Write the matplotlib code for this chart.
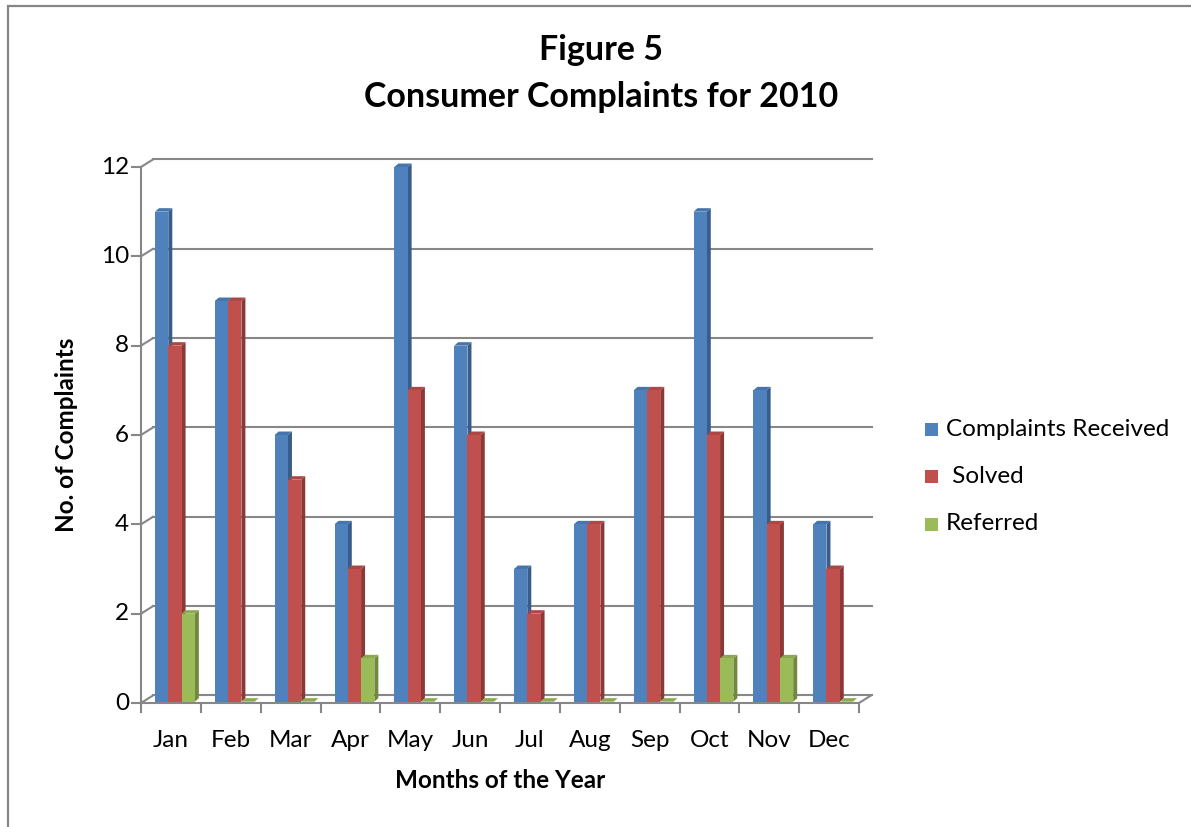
import matplotlib
matplotlib.use('Agg')
import matplotlib.pyplot as plt
from matplotlib.patches import Polygon, Rectangle

plt.rcParams['font.family'] = ['Lato', 'DejaVu Sans']

months = ['Jan', 'Feb', 'Mar', 'Apr', 'May', 'Jun', 'Jul', 'Aug', 'Sep', 'Oct', 'Nov', 'Dec']
received = [11, 9, 6, 4, 12, 8, 3, 4, 7, 11, 7, 4]
solved = [8, 9, 5, 3, 7, 6, 2, 4, 7, 6, 4, 3]
referred = [2, 0, 0, 1, 0, 0, 0, 0, 0, 1, 1, 0]
series_names = ['Complaints Received', ' Solved', 'Referred']
yticks = [0, 2, 4, 6, 8, 10, 12]

# front / side / top shades for each series
face_cols = ['#4F81BD', '#C0504D', '#9BBB59']
side_cols = ['#385D8A', '#8C3836', '#71893F']
top_cols = ['#4675AC', '#AD4744', '#8BA94F']

W, H = 1191, 827
fig = plt.figure(figsize=(W / 100, H / 100), dpi=100)
fig.patch.set_facecolor('white')

# chart frame (only left and top edges show)
fig.add_artist(Rectangle((8 / W, -0.1), 1.2, 1 - 6 / H + 0.1, transform=fig.transFigure,
                         fill=False, edgecolor='#868686', lw=1.6))

ax = fig.add_axes([141 / W, 1 - 703 / H, 718 / W, 536 / H])
ax.set_xlim(0, 12)
ax.set_ylim(0, 12)
ax.axis('off')

BX, BY = 0.2, 0.168      # depth of back wall
DX, DY = 0.067, 0.078    # depth of each column
grid_col = '#878787'

# back wall gridlines with diagonals to the front axis
for v in yticks:
    ax.plot([BX, 12 + BX + 0.02], [v + BY, v + BY], color=grid_col, lw=1.5, zorder=1, clip_on=False)
    ax.plot([0, BX], [v, v + BY], color=grid_col, lw=1.5, zorder=1, clip_on=False)
    ax.plot([-0.15, 0], [v, v], color=grid_col, lw=1.5, zorder=1, clip_on=False)
    ax.text(-0.2, v, str(v), ha='right', va='center', fontsize=17.5)

# floor and front axis
ax.plot([0, 12, 12 + BX], [0, 0, BY], color=grid_col, lw=1.5, zorder=1, clip_on=False)
ax.plot([0, 0], [0, 12], color=grid_col, lw=1.5, zorder=1, clip_on=False)
for i in range(13):
    ax.plot([i, i], [0, -0.2], color=grid_col, lw=1.5, zorder=1, clip_on=False)

bw = 0.222
y0 = 0.03
z = 2
for i in range(len(months)):
    for s, vals in enumerate([received, solved, referred]):
        v = max(vals[i], y0)
        x0 = i + 0.234 + s * bw
        side = Polygon([(x0 + bw, y0), (x0 + bw + DX, y0 + DY), (x0 + bw + DX, v + DY), (x0 + bw, v)],
                       closed=True, facecolor=side_cols[s], edgecolor='none', zorder=z, clip_on=False)
        top = Polygon([(x0, v), (x0 + DX, v + DY), (x0 + bw + DX, v + DY), (x0 + bw, v)],
                      closed=True, facecolor=top_cols[s], edgecolor='none', zorder=z, clip_on=False)
        ax.add_patch(side)
        ax.add_patch(top)
        if vals[i] > 0:
            ax.add_patch(Rectangle((x0, y0), bw, v - y0, facecolor=face_cols[s], edgecolor='none',
                                   zorder=z + 0.5, clip_on=False))
        z += 1
    ax.text(i + 0.5, -0.83, months[i], ha='center', va='center', fontsize=17.5)

# titles and axis labels
fig.text(601 / W, 1 - 50 / H, 'Figure 5', ha='center', va='center', fontsize=24.5, fontweight='bold')
fig.text(601 / W, 1 - 97 / H, 'Consumer Complaints for 2010', ha='center', va='center',
         fontsize=24.5, fontweight='bold')
fig.text(66 / W, 1 - 435 / H, 'No. of Complaints', ha='center', va='center', rotation=90,
         fontsize=17.5, fontweight='bold')
fig.text(500 / W, 1 - 780 / H, 'Months of the Year', ha='center', va='center',
         fontsize=17.5, fontweight='bold')

# legend
for s, name in enumerate(series_names):
    yc = 1 - (429 + s * 47.5) / H
    fig.add_artist(Rectangle((925 / W, yc - 6.5 / H), 13 / W, 13 / H, transform=fig.transFigure,
                             facecolor=face_cols[s], edgecolor='none'))
    fig.text(946 / W, yc, name, ha='left', va='center', fontsize=17.5)

fig.savefig('out.png', dpi=100)
